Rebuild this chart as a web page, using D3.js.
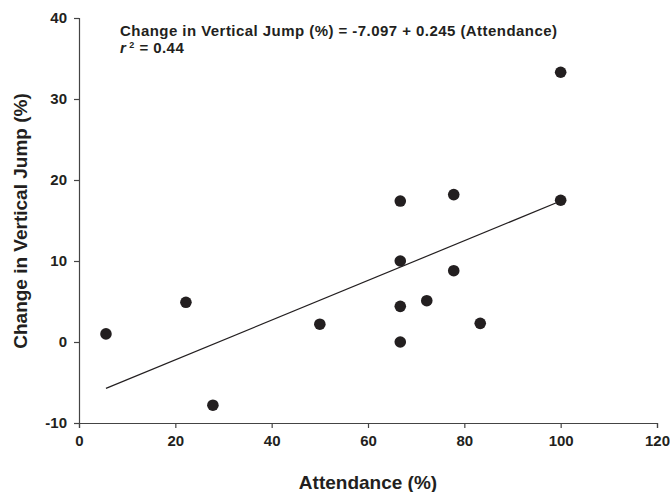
<!DOCTYPE html>
<html><head><meta charset="utf-8">
<script src="https://cdn.jsdelivr.net/npm/d3@7"></script>
<style>body{margin:0;background:#fff}svg{display:block}text{font-family:"Liberation Sans",Arial,sans-serif;font-weight:bold;fill:#231f20}</style>
</head><body><svg id="c" width="670" height="492"></svg>
<script>
const attendance = [5.6, 22.2, 27.8, 50, 66.7, 66.7, 66.7, 66.7, 72.2, 77.8, 77.8, 83.3, 100, 100];
const jumpChange = [1.0, 4.9, -7.8, 2.2, 17.4, 10.0, 4.4, 0.0, 5.1, 18.2, 8.8, 2.3, 33.3, 17.5];
const xTicks = [0, 20, 40, 60, 80, 100, 120];
const yTicks = [-10, 0, 10, 20, 30, 40];
const intercept = -7.097, slope = 0.245;
const fitRange = [5.6, 100];

const svg = d3.select("#c");
const x = d3.scaleLinear().domain([0, 120]).range([79, 657]);
const y = d3.scaleLinear().domain([-10, 40]).range([423, 18]);
const ink = "#231f20";

const xa = svg.append("g").attr("transform", "translate(0,423)")
  .call(d3.axisBottom(x).tickValues(xTicks).tickSize(5).tickPadding(7).tickFormat(d3.format("d")));
const ya = svg.append("g").attr("transform", "translate(79,0)")
  .call(d3.axisLeft(y).tickValues(yTicks).tickSize(5).tickPadding(7).tickFormat(d => d < 0 ? "-" + Math.abs(d) : String(d)));
[xa, ya].forEach(a => {
  a.select(".domain").attr("stroke", "#444").attr("stroke-width", 1.2);
  a.selectAll(".tick line").attr("stroke", "#444").attr("stroke-width", 1.2);
  a.selectAll(".tick text").attr("font-size", 15).attr("fill", ink).style("font-family", "Liberation Sans, Arial, sans-serif").attr("font-weight", "bold");
});

svg.append("line")
  .attr("x1", x(fitRange[0])).attr("y1", y(intercept + slope * fitRange[0]))
  .attr("x2", x(fitRange[1])).attr("y2", y(intercept + slope * fitRange[1]))
  .attr("stroke", ink).attr("stroke-width", 1.2);

svg.selectAll("circle.pt").data(attendance).join("circle")
  .attr("class", "pt")
  .attr("cx", d => x(d)).attr("cy", (d, i) => y(jumpChange[i]))
  .attr("r", 5.8).attr("fill", ink);

svg.append("text").attr("x", 120).attr("y", 36).attr("font-size", 15).attr("letter-spacing", 0.45)
  .text("Change in Vertical Jump (%) = -7.097 + 0.245 (Attendance)");
const r = svg.append("text").attr("x", 120).attr("y", 53).attr("font-size", 15).attr("letter-spacing", 0.45);
r.append("tspan").attr("font-style", "italic").text("r");
r.append("tspan").attr("font-size", 9).attr("dy", -5).attr("dx", 3).text("2");
r.append("tspan").attr("dy", 5).text(" = 0.44");

svg.append("text").attr("x", 368).attr("y", 489).attr("text-anchor", "middle").attr("font-size", 19)
  .text("Attendance (%)");
svg.append("text").attr("transform", "translate(27,221) rotate(-90)").attr("text-anchor", "middle").attr("font-size", 19)
  .text("Change in Vertical Jump (%)");
</script></body></html>
